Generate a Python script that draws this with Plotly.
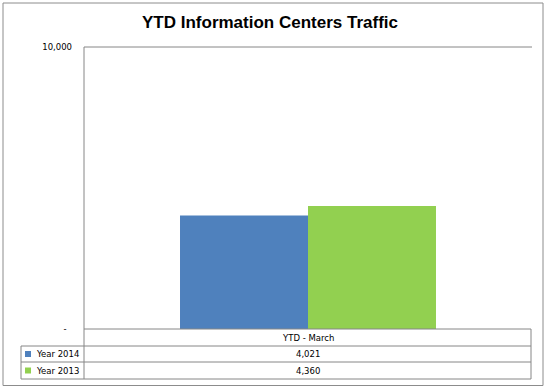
import plotly.graph_objects as go

# ---- data ----
categories = ["YTD - March"]
series_names = ["Year 2014", "Year 2013"]
values_2014 = [4021]
values_2013 = [4360]
series_colors = ["#4F81BD", "#92D050"]
y_tick_vals = [0, 10000]
y_tick_text = ["-\u00a0\u00a0", "10,000"]
title_text = "YTD Information Centers Traffic"

W, H = 547, 389
L, R, T, B = 84, 532, 47, 329  # plot area in pixels


def px(x):
    return (x - L) / (R - L)


def py(y):
    return (B - y) / (B - T)


series_values = [values_2014, values_2013]

fig = go.Figure()
for name, vals, col in zip(series_names, series_values, series_colors):
    fig.add_trace(go.Bar(x=categories, y=vals, name=name,
                         marker=dict(color=col, line=dict(width=0))))

gray = "#868686"
shapes = []


def line(x0, y0, x1, y1, color=gray):
    shapes.append(dict(type="line", xref="paper", yref="paper",
                       x0=px(x0), y0=py(y0), x1=px(x1), y1=py(y1),
                       line=dict(color=color, width=1)))


# outer chart border
shapes.append(dict(type="rect", xref="paper", yref="paper",
                   x0=px(3), x1=px(543), y0=py(385.5), y1=py(3),
                   line=dict(color="#8c8c8c", width=1)))
# plot area left and top lines
line(84, 47, 84, 379)
line(84, 47, 532, 47)
# data table
line(84, 329, 531, 329)
for yy in [346, 362, 379]:
    line(21, yy, 531, yy)
line(21, 346, 21, 379)
line(531, 329, 531, 379)

annotations = []
font_small = dict(family="DejaVu Sans", size=8.5, color="#000000")
row_y = [354, 370.5]
# header
annotations.append(dict(xref="paper", yref="paper", x=px(308), y=py(337.5),
                        text=categories[0], showarrow=False, font=font_small,
                        xanchor="center", yanchor="middle"))
for i, (name, vals, col) in enumerate(zip(series_names, series_values, series_colors)):
    yy = row_y[i]
    shapes.append(dict(type="rect", xref="paper", yref="paper",
                       x0=px(25), x1=px(31), y0=py(yy + 3), y1=py(yy - 3),
                       fillcolor=col, line=dict(width=0)))
    annotations.append(dict(xref="paper", yref="paper", x=px(34), y=py(yy),
                            text=name, showarrow=False, font=font_small,
                            xanchor="left", yanchor="middle"))
    annotations.append(dict(xref="paper", yref="paper", x=px(308), y=py(yy),
                            text=f"{vals[0]:,}", showarrow=False, font=font_small,
                            xanchor="center", yanchor="middle"))

fig.update_layout(
    width=W, height=H,
    margin=dict(l=L, r=W - R, t=T, b=H - B, pad=0),
    paper_bgcolor="white", plot_bgcolor="white",
    showlegend=False,
    barmode="group", bargap=0.4286, bargroupgap=0,
    title=dict(text="<b>" + title_text + "</b>", x=270 / W, xanchor="center",
               y=1 - 22 / H, yanchor="middle",
               font=dict(family="Liberation Sans", size=17, color="#000000")),
    xaxis=dict(showticklabels=False, showgrid=False, zeroline=False,
               showline=False, ticks=""),
    yaxis=dict(range=[0, 10000], tickvals=y_tick_vals, ticktext=y_tick_text,
               showgrid=False, zeroline=False, showline=False, ticks="",
               ticklabelstandoff=11, tickfont=dict(family="DejaVu Sans", size=8.5,
                                                   color="#000000")),
    shapes=shapes, annotations=annotations,
)

fig.write_html(
    "out.html",
    config={"displayModeBar": False},
    post_script="document.body.style.margin='0';document.body.style.overflow='hidden';",
)
